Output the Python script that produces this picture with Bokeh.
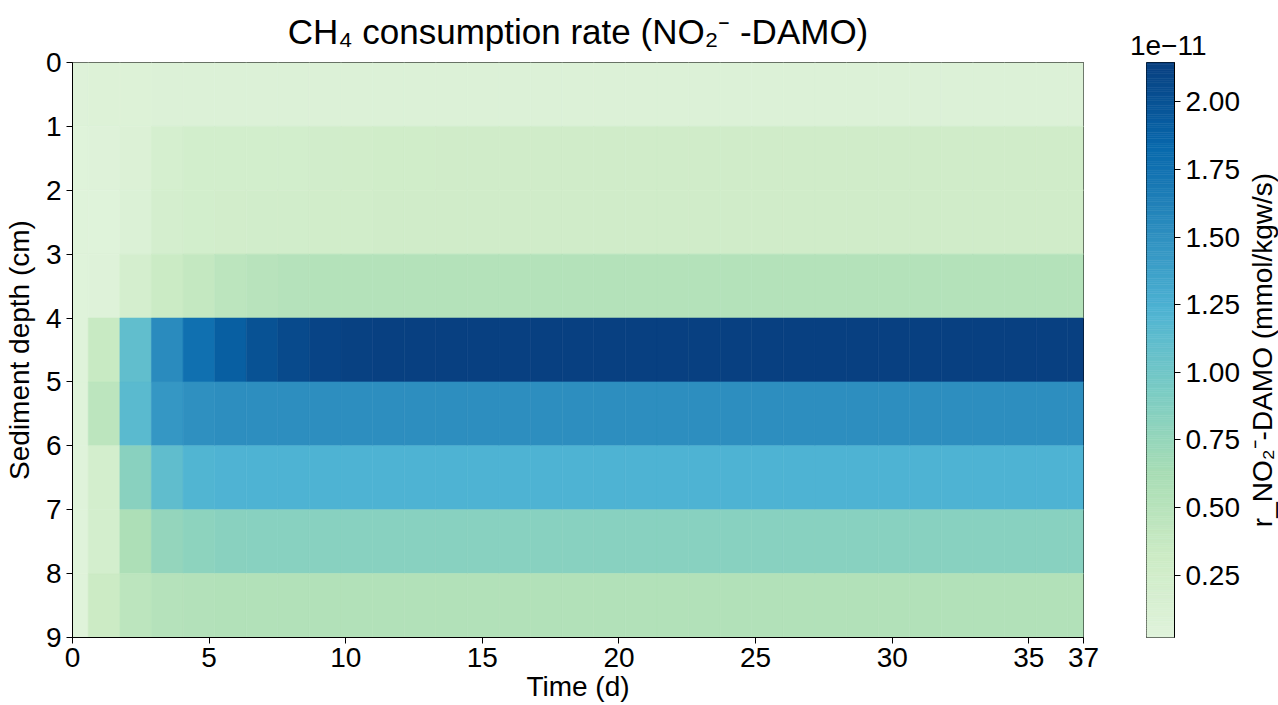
import numpy as np
from bokeh.plotting import figure
from bokeh.models import Range1d, FixedTicker, ColumnDataSource, LinearColorMapper, NumeralTickFormatter
from bokeh.layouts import row
from bokeh.embed import file_html
from bokeh.resources import INLINE

# ---------------- data (rates in units of 1e-11 mmol/kgw/s) ----------------
time_d = [0.0, 1.156, 2.313, 3.469, 4.625, 5.781, 6.938, 8.094, 9.25, 10.406, 11.563,
          12.719, 13.875, 15.031, 16.188, 17.344, 18.5, 19.656, 20.813, 21.969, 23.125,
          24.281, 25.438, 26.594, 27.75, 28.906, 30.063, 31.219, 32.375, 33.531, 34.688,
          35.844, 37.0]
depth_cm = [0.5, 1.5, 2.5, 3.5, 4.5, 5.5, 6.5, 7.5, 8.5]

rate_0_1 = [0.06, 0.07, 0.075, 0.08, 0.08, 0.08, 0.08, 0.08, 0.08, 0.08, 0.08,
            0.08, 0.08, 0.08, 0.08, 0.08, 0.08, 0.08, 0.08, 0.08, 0.08, 0.08,
            0.08, 0.08, 0.08, 0.08, 0.08, 0.08, 0.08, 0.08, 0.08, 0.08, 0.08]
rate_1_2 = [0.03, 0.045, 0.09, 0.19, 0.23, 0.23, 0.23, 0.23, 0.25, 0.26, 0.265,
            0.265, 0.27, 0.27, 0.27, 0.27, 0.27, 0.27, 0.27, 0.27, 0.27, 0.27,
            0.27, 0.27, 0.27, 0.27, 0.27, 0.27, 0.27, 0.27, 0.27, 0.27, 0.27]
rate_2_3 = [0.03, 0.04, 0.10, 0.20, 0.23, 0.24, 0.25, 0.25, 0.26, 0.26, 0.27,
            0.27, 0.27, 0.27, 0.27, 0.27, 0.27, 0.27, 0.27, 0.27, 0.27, 0.27,
            0.27, 0.27, 0.27, 0.27, 0.27, 0.27, 0.27, 0.27, 0.27, 0.27, 0.27]
rate_3_4 = [0.03, 0.06, 0.20, 0.33, 0.40, 0.46, 0.50, 0.52, 0.53, 0.53, 0.53,
            0.53, 0.53, 0.53, 0.53, 0.53, 0.53, 0.53, 0.53, 0.53, 0.53, 0.53,
            0.53, 0.53, 0.53, 0.53, 0.53, 0.53, 0.53, 0.53, 0.53, 0.53, 0.53]
rate_4_5 = [0.03, 0.36, 1.10, 1.54, 1.77, 1.91, 2.01, 2.07, 2.11, 2.13, 2.14,
            2.14, 2.14, 2.14, 2.14, 2.14, 2.14, 2.14, 2.14, 2.14, 2.14, 2.14,
            2.14, 2.14, 2.14, 2.14, 2.14, 2.14, 2.14, 2.14, 2.14, 2.14, 2.14]
rate_5_6 = [0.03, 0.46, 1.15, 1.45, 1.50, 1.52, 1.52, 1.52, 1.52, 1.52, 1.52,
            1.52, 1.52, 1.52, 1.52, 1.52, 1.52, 1.52, 1.52, 1.52, 1.52, 1.52,
            1.52, 1.52, 1.52, 1.52, 1.52, 1.52, 1.52, 1.52, 1.52, 1.52, 1.52]
rate_6_7 = [0.03, 0.22, 0.84, 1.11, 1.21, 1.23, 1.24, 1.24, 1.24, 1.24, 1.24,
            1.24, 1.24, 1.24, 1.24, 1.24, 1.24, 1.24, 1.24, 1.24, 1.24, 1.24,
            1.24, 1.24, 1.24, 1.24, 1.24, 1.24, 1.24, 1.24, 1.24, 1.24, 1.24]
rate_7_8 = [0.03, 0.22, 0.585, 0.765, 0.81, 0.835, 0.845, 0.85, 0.85, 0.85, 0.85,
            0.85, 0.85, 0.85, 0.85, 0.85, 0.85, 0.85, 0.85, 0.85, 0.85, 0.85,
            0.85, 0.85, 0.85, 0.85, 0.85, 0.85, 0.85, 0.85, 0.85, 0.85, 0.85]
rate_8_9 = [0.03, 0.32, 0.46, 0.52, 0.54, 0.55, 0.55, 0.55, 0.55, 0.55, 0.55,
            0.55, 0.55, 0.55, 0.55, 0.55, 0.55, 0.55, 0.55, 0.55, 0.55, 0.55,
            0.55, 0.55, 0.55, 0.55, 0.55, 0.55, 0.55, 0.55, 0.55, 0.55, 0.55]
rate_rows = [rate_0_1, rate_1_2, rate_2_3, rate_3_4, rate_4_5,
             rate_5_6, rate_6_7, rate_7_8, rate_8_9]

x_ticks = [0, 5, 10, 15, 20, 25, 30, 35, 37]
y_ticks = [0, 1, 2, 3, 4, 5, 6, 7, 8, 9]
cb_ticks = [0.25, 0.50, 0.75, 1.00, 1.25, 1.50, 1.75, 2.00]
CB_LOW, CB_HIGH = 0.02, 2.145

TITLE = "CH\u2084 consumption rate (NO\u2082\u207b -DAMO)"
X_LABEL = "Time (d)"
Y_LABEL = "Sediment depth (cm)"
CB_LABEL = "r_NO\u2082\u207b-DAMO (mmol/kgw/s)"
CB_EXP = "1e\u221211"

# ---------------- style ----------------
FONT = "Liberation Sans"
TICK_FS = "28px"
LABEL_FS = "28px"
GNBU = ["#e0f3db", "#ccebc5", "#a8ddb5", "#7bccc4", "#4eb3d3", "#2b8cbe", "#0868ac", "#084081"]


def make_palette(colors, n=256):
    rgb = np.array([[int(c[i:i + 2], 16) for i in (1, 3, 5)] for c in colors], float)
    pos = np.linspace(0, 1, len(colors))
    out = []
    for t in np.linspace(0, 1, n):
        r, g, b = (np.interp(t, pos, rgb[:, k]) for k in range(3))
        out.append("#%02x%02x%02x" % (int(round(r)), int(round(g)), int(round(b))))
    return out


palette = make_palette(GNBU)
mapper = LinearColorMapper(palette=palette, low=CB_LOW, high=CB_HIGH)

FIG_H = 705
TOP, BOTTOM = 62, 68
T_MAX, D_MAX = 37.0, 9.0
CELL_W = 37.0 / 32.0

xs, ys, vs = [], [], []
for j, d in enumerate(depth_cm):
    for i, t in enumerate(time_d):
        xs.append(t)
        ys.append(d)
        vs.append(rate_rows[j][i])
src = ColumnDataSource(dict(t=xs, d=ys, v=vs))


def style_axis(ax):
    ax.major_label_text_font = FONT
    ax.major_label_text_font_size = TICK_FS
    ax.major_label_text_color = "black"
    ax.axis_line_color = "black"
    ax.major_tick_line_color = "black"
    ax.major_tick_in = 0
    ax.major_tick_out = 6
    ax.minor_tick_line_color = None
    ax.axis_label_text_font = FONT
    ax.axis_label_text_font_size = LABEL_FS
    ax.axis_label_text_font_style = "normal"
    ax.axis_label_text_color = "black"


# ---------------- main heatmap ----------------
p = figure(width=1100, height=FIG_H, x_range=Range1d(0, T_MAX), y_range=Range1d(D_MAX, 0),
           output_backend="svg", toolbar_location=None,
           min_border_left=72, min_border_right=17, min_border_top=TOP, min_border_bottom=BOTTOM)
p.rect(x="t", y="d", width=CELL_W, height=1, source=src,
       fill_color={"field": "v", "transform": mapper},
       line_color={"field": "v", "transform": mapper}, line_width=0.6)

p.title.text = TITLE
p.title.text_font = FONT
p.title.text_font_size = "35px"
p.title.text_font_style = "normal"
p.title.text_color = "black"
p.title.align = "center"
p.title.vertical_align = "top"
p.title.standoff = 20

p.xgrid.visible = False
p.ygrid.visible = False
p.outline_line_color = "black"
p.outline_line_width = 1
p.background_fill_color = "white"
p.border_fill_color = "white"
p.xaxis.ticker = FixedTicker(ticks=x_ticks)
p.yaxis.ticker = FixedTicker(ticks=y_ticks)
style_axis(p.xaxis[0])
style_axis(p.yaxis[0])
p.xaxis.major_label_standoff = 4
p.yaxis.major_label_standoff = 5
p.xaxis.axis_label = X_LABEL
p.yaxis.axis_label = Y_LABEL
p.xaxis.axis_label_standoff = 1
p.yaxis.axis_label_standoff = 8

# ---------------- colorbar ----------------
p2 = figure(width=142, height=FIG_H, x_range=Range1d(0, 1), y_range=Range1d(CB_LOW, CB_HIGH),
            output_backend="svg", toolbar_location=None, y_axis_location="right",
            min_border_left=46, min_border_right=66, min_border_top=TOP, min_border_bottom=BOTTOM)
edges = np.linspace(CB_LOW, CB_HIGH, len(palette) + 1)
p2.quad(left=0, right=1, bottom=edges[:-1], top=edges[1:], fill_color=palette,
        line_color=palette, line_width=0.6)
p2.xaxis.visible = False
p2.xgrid.visible = False
p2.ygrid.visible = False
p2.outline_line_color = "black"
p2.outline_line_width = 1
p2.border_fill_color = "white"
ya = p2.yaxis[0]
ya.ticker = FixedTicker(ticks=cb_ticks)
ya.formatter = NumeralTickFormatter(format="0.00")
style_axis(ya)
ya.major_label_standoff = 5
p2.title.text = CB_EXP
p2.title.text_font = FONT
p2.title.text_font_size = "28px"
p2.title.text_font_style = "normal"
p2.title.text_color = "black"
p2.title.align = "right"
p2.title.offset = -32
p2.title.standoff = 16

# ---------------- colorbar label (left-axis label of a thin helper figure) ----------------
p3 = figure(width=36, height=FIG_H, x_range=Range1d(0, 1), y_range=Range1d(0, 1),
            output_backend="svg", toolbar_location=None,
            min_border_left=35, min_border_right=0, min_border_top=TOP, min_border_bottom=BOTTOM)
p3.xaxis.visible = False
p3.xgrid.visible = False
p3.ygrid.visible = False
p3.outline_line_color = None
p3.border_fill_color = "white"
p3.background_fill_color = "white"
ya3 = p3.yaxis[0]
ya3.ticker = FixedTicker(ticks=[])
style_axis(ya3)
ya3.axis_line_color = None
ya3.major_tick_out = 0
ya3.major_label_standoff = 0
ya3.axis_label = CB_LABEL
ya3.axis_label_standoff = 0

layout = row(p, p2, p3)
open("out.html", "w").write(file_html(layout, INLINE))
